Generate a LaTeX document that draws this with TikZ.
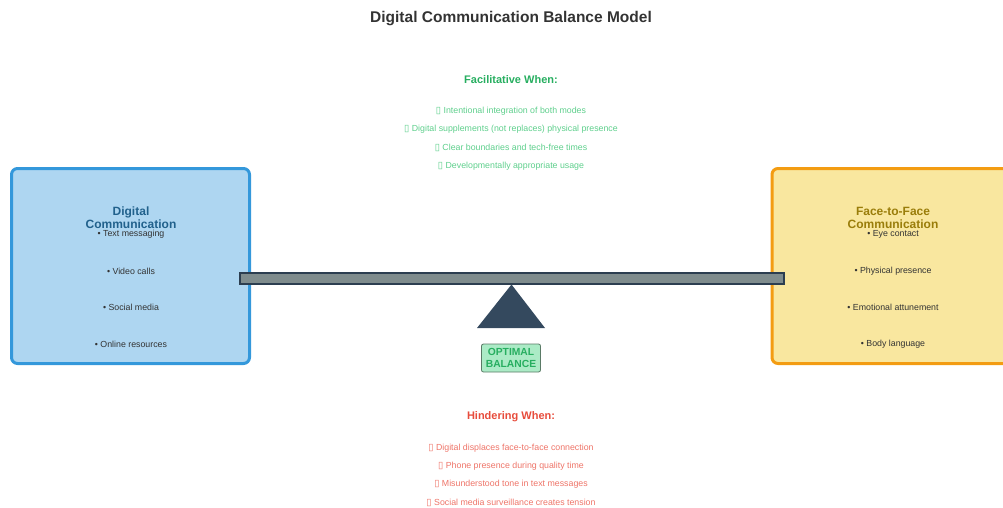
\documentclass[tikz,border=0pt]{standalone}
\usepackage{fontspec}
\setmainfont{Liberation Sans}
\newfontfamily\symfont{DejaVu Sans}
\usepackage{tikz}
\usetikzlibrary{positioning}

\definecolor{titlegray}{HTML}{333333}
\definecolor{digitalfill}{HTML}{AED6F1}
\definecolor{digitaldraw}{HTML}{3498DB}
\definecolor{digitaltext}{HTML}{21618C}
\definecolor{facefill}{HTML}{F9E79F}
\definecolor{facedraw}{HTML}{F39C12}
\definecolor{facetext}{HTML}{9A7D0A}
\definecolor{beamfill}{HTML}{7F8C8D}
\definecolor{beamdraw}{HTML}{2C3E50}
\definecolor{fulcrum}{HTML}{34495E}
\definecolor{goodhead}{HTML}{27AE60}
\definecolor{goodtext}{HTML}{5ECF8C}
\definecolor{badhead}{HTML}{E74C3C}
\definecolor{badtext}{HTML}{EE7468}
\definecolor{optfill}{HTML}{ABEBC6}
\definecolor{optdraw}{HTML}{5A7A66}

\newcommand{\tofu}{{\symfont\fontsize{9.5}{10}\selectfont ▯}}

\tikzset{
    sidebox/.style={rectangle, rounded corners=6pt, line width=3pt},
    sidetitle/.style={align=center, inner sep=0pt, font=\fontsize{12}{13}\selectfont\bfseries},
    itemtext/.style={inner sep=0pt, text=titlegray, font=\fontsize{8.8}{10}\selectfont},
    headtext/.style={inner sep=0pt, font=\fontsize{11}{13}\selectfont\bfseries},
    goodline/.style={inner sep=0pt, text=goodtext, font=\fontsize{8.8}{10}\selectfont},
    badline/.style={inner sep=0pt, text=badtext, font=\fontsize{8.8}{10}\selectfont},
}

\begin{document}
\begin{tikzpicture}[x=1pt,y=-1pt]
\useasboundingbox (0,0) rectangle (1003,507);
\clip (0,0) rectangle (1003,507);

% Title
\node[inner sep=0pt,text=titlegray,font=\fontsize{15.5}{18}\selectfont\bfseries] (title) at (511,18.5) {Digital Communication Balance Model};

% Facilitative conditions (top)
\node[headtext,text=goodhead] (fachead) at (511,80) {Facilitative When:};
\node[goodline] (fac1) at (511,111.5) {\tofu\ Intentional integration of both modes};
\node[goodline] (fac2) at (511,129.5) {\tofu\ Digital supplements (not replaces) physical presence};
\node[goodline] (fac3) at (511,148) {\tofu\ Clear boundaries and tech-free times};
\node[goodline] (fac4) at (511,166.5) {\tofu\ Developmentally appropriate usage};

% Left side - Digital
\node[sidebox,draw=digitaldraw,fill=digitalfill,minimum width=238pt,minimum height=195pt] (digital) at (130.5,266) {};
\node[sidetitle,text=digitaltext] (digitaltitle) at (131,217.5) {Digital\\Communication};
\node[itemtext] (dig1) at (131,234.5) {\textbullet\ Text messaging};
\node[itemtext] (dig2) at (131,271) {\textbullet\ Video calls};
\node[itemtext] (dig3) at (131,307.5) {\textbullet\ Social media};
\node[itemtext] (dig4) at (131,344.5) {\textbullet\ Online resources};

% Right side - Face-to-Face
\node[sidebox,draw=facedraw,fill=facefill,minimum width=242pt,minimum height=195pt] (face) at (893,266) {};
\node[sidetitle,text=facetext] (facetitle) at (893,217.5) {Face-to-Face\\Communication};
\node[itemtext] (face1) at (893,234.5) {\textbullet\ Eye contact};
\node[itemtext] (face2) at (893,271) {\textbullet\ Physical presence};
\node[itemtext] (face3) at (893,307.5) {\textbullet\ Emotional attunement};
\node[itemtext] (face4) at (893,344.5) {\textbullet\ Body language};

% Beam and fulcrum
\node[draw=beamdraw,fill=beamfill,line width=2pt,minimum width=544pt,minimum height=11pt,inner sep=0pt] (beam) at (511.5,278) {};
\fill[fulcrum] (beam.south) -- (545,328) -- (477,328) -- cycle;
\node[draw=optdraw,fill=optfill,rounded corners=2pt,line width=0.8pt,minimum width=59pt,minimum height=28pt,inner sep=1pt,align=center,text=goodhead,font=\fontsize{10.3}{12.5}\selectfont\bfseries] (optimal) at (511,358) {OPTIMAL\\BALANCE};

% Hindering conditions (bottom)
\node[headtext,text=badhead] (hindhead) at (511,416.5) {Hindering When:};
\node[badline] (hind1) at (511,448.5) {\tofu\ Digital displaces face-to-face connection};
\node[badline] (hind2) at (511,466.5) {\tofu\ Phone presence during quality time};
\node[badline] (hind3) at (511,484.5) {\tofu\ Misunderstood tone in text messages};
\node[badline] (hind4) at (511,503) {\tofu\ Social media surveillance creates tension};
\end{tikzpicture}
\end{document}
